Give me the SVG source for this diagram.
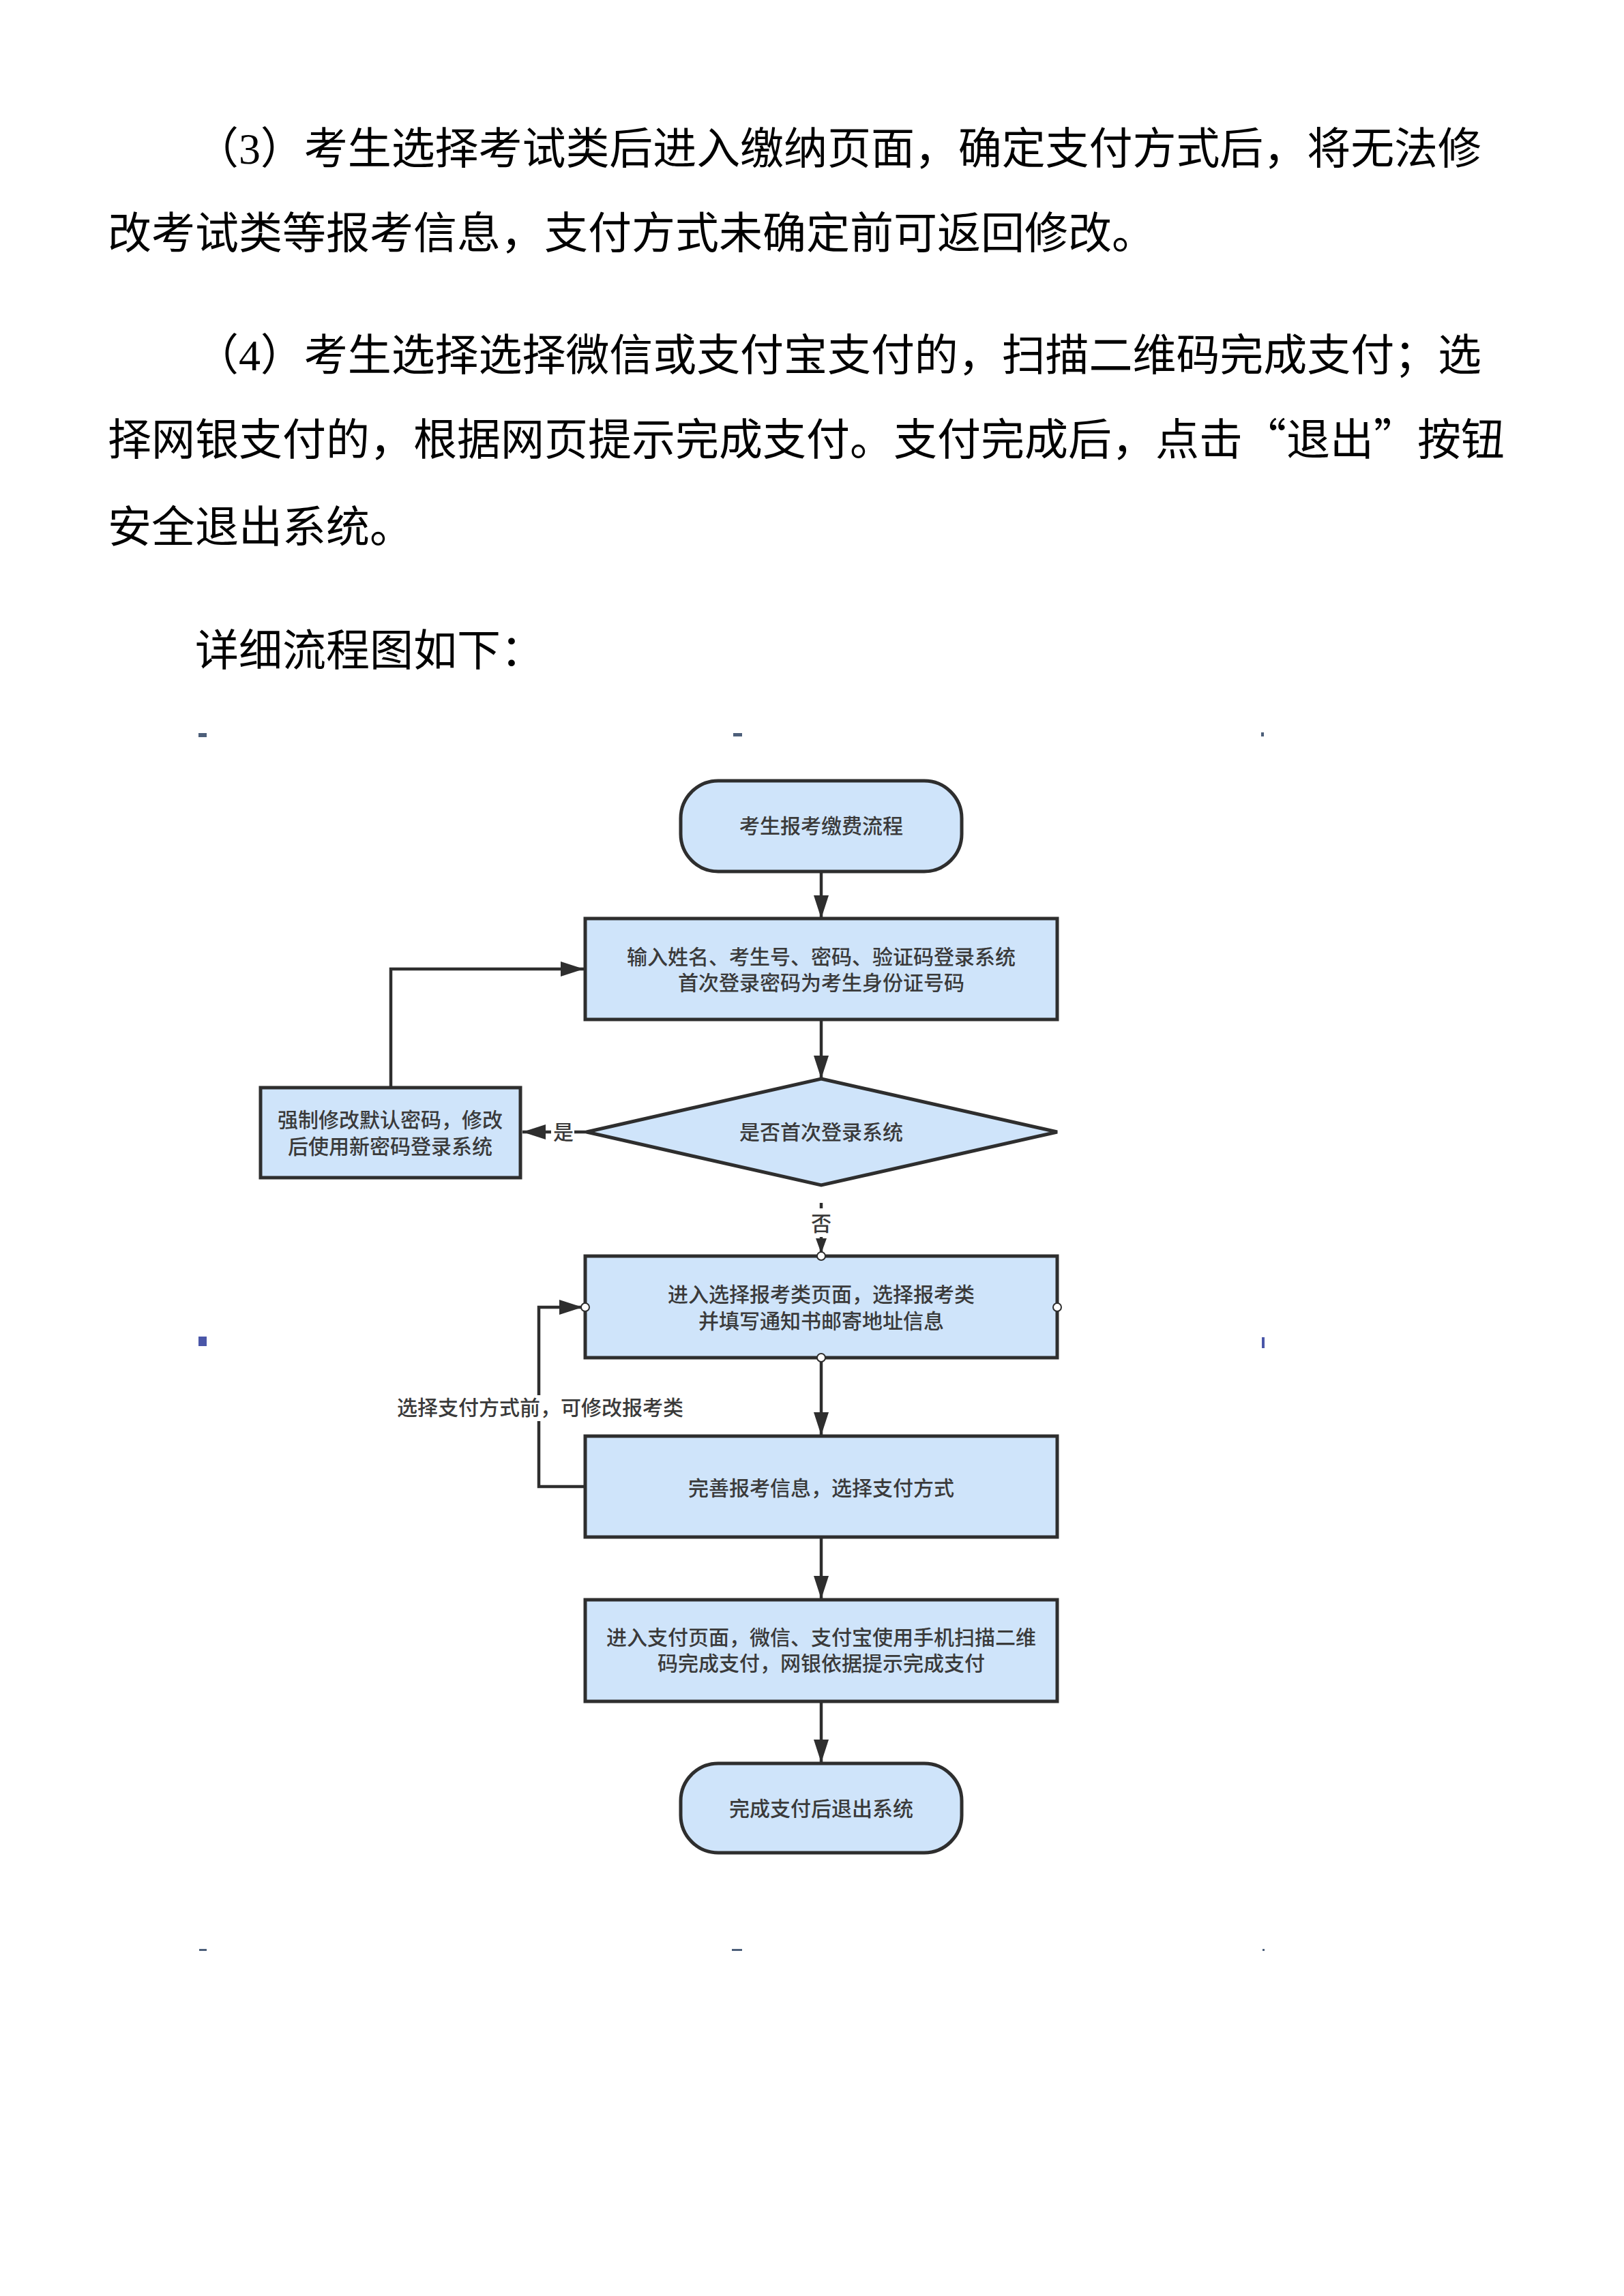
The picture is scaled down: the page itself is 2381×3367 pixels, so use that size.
<svg xmlns="http://www.w3.org/2000/svg" width="2381" height="3367" viewBox="0 0 2381 3367">
<style>
.body{font-family:"Liberation Serif","Noto Sans CJK SC",serif;font-size:64px;fill:#000}
.cjk{font-family:"Noto Sans CJK SC",sans-serif}
.node{fill:#cfe4fa;stroke:#2e2e2e;stroke-width:5}
.lbl{font-family:"Noto Sans CJK SC",sans-serif;font-size:30px;font-weight:500;fill:#3a3a3a;text-anchor:middle}
.edge{fill:none;stroke:#2e2e2e;stroke-width:4.5}
.port{fill:#ffffff;stroke:#2e2e2e;stroke-width:2}
.hdl{fill:#4d5f7a}
</style>
<defs>
<marker id="arr" viewBox="0 0 34 22" refX="34" refY="11" markerWidth="34" markerHeight="22" markerUnits="userSpaceOnUse" orient="auto">
<path d="M0,0 L34,11 L0,22 Z" fill="#2e2e2e"/>
</marker>
<marker id="arrs" viewBox="0 0 22 16" refX="22" refY="8" markerWidth="22" markerHeight="16" markerUnits="userSpaceOnUse" orient="auto">
<path d="M0,0 L22,8 L0,16 Z" fill="#2e2e2e"/>
</marker>
</defs>
<rect width="2381" height="3367" fill="#ffffff"/>

<g id="body-text">
<text class="body" x="286" y="240" textLength="1886" lengthAdjust="spacing">（3）考生选择考试类后进入缴纳页面，确定支付方式后，将无法修</text>
<text class="body" x="158" y="364">改考试类等报考信息，支付方式未确定前可返回修改。</text>
<text class="body" x="286" y="543" textLength="1886" lengthAdjust="spacing">（4）考生选择选择微信或支付宝支付的，扫描二维码完成支付；选</text>
<text class="body" y="667"><tspan x="158" textLength="1664" lengthAdjust="spacing">择网银支付的，根据网页提示完成支付。支付完成后，点击</tspan><tspan x="1822" class="cjk">“</tspan><tspan x="1886">退出</tspan><tspan x="2014" class="cjk">”</tspan><tspan x="2078">按钮</tspan></text>
<text class="body" x="158" y="795">安全退出系统。</text>
<text class="body" x="286" y="976">详细流程图如下：</text>
</g>

<g id="handles">
<rect class="hdl" x="291" y="1075" width="12" height="6"/>
<rect class="hdl" x="1075" y="1075" width="13" height="5"/>
<rect class="hdl" x="1849" y="1074" width="4" height="6"/>
<rect x="291" y="1960" width="12" height="14" fill="#4a56a8"/>
<rect x="1850" y="1961" width="4" height="16" fill="#4a56a8"/>
<rect class="hdl" x="292" y="2858" width="11" height="3"/>
<rect class="hdl" x="1073" y="2858" width="15" height="3"/>
<rect class="hdl" x="1851" y="2858" width="3" height="3"/>
</g>

<g id="connectors">
<line class="edge" x1="1204" y1="1278" x2="1204" y2="1347" marker-end="url(#arr)"/>
<line class="edge" x1="1204" y1="1495" x2="1204" y2="1582" marker-end="url(#arr)"/>
<line class="edge" x1="860" y1="1660" x2="766" y2="1660" marker-end="url(#arr)"/>
<path class="edge" d="M573,1595 L573,1421 L856,1421" marker-end="url(#arr)"/>
<line class="edge" x1="1204" y1="1764" x2="1204" y2="1838" marker-end="url(#arrs)"/>
<line class="edge" x1="1204" y1="1991" x2="1204" y2="2105" marker-end="url(#arr)"/>
<path class="edge" d="M857,2180 L790,2180 L790,1917 L854,1917" marker-end="url(#arr)"/>
<line class="edge" x1="1204" y1="2254" x2="1204" y2="2345" marker-end="url(#arr)"/>
<line class="edge" x1="1204" y1="2495" x2="1204" y2="2585" marker-end="url(#arr)"/>
<rect x="808" y="1642" width="34" height="38" fill="#ffffff"/>
<text class="lbl" x="826" y="1671">是</text>
<rect x="1188" y="1772" width="32" height="42" fill="#ffffff"/>
<text class="lbl" x="1204" y="1805">否</text>
<rect x="586" y="2046" width="413" height="38" fill="#ffffff"/>
<text class="lbl" x="792" y="2075">选择支付方式前，可修改报考类</text>
</g>

<g id="start">
<rect class="node" x="998" y="1145" width="412" height="133" rx="55" ry="55"/>
<text class="lbl" x="1204" y="1222">考生报考缴费流程</text>
</g>

<g id="login">
<rect class="node" x="858" y="1347" width="692" height="148"/>
<text class="lbl" x="1204" y="1414">输入姓名、考生号、密码、验证码登录系统</text>
<text class="lbl" x="1204" y="1452">首次登录密码为考生身份证号码</text>
</g>

<g id="first-login">
<polygon class="node" points="1204,1582 1550,1660 1204,1738 860,1660"/>
<text class="lbl" x="1204" y="1671">是否首次登录系统</text>
</g>

<g id="change-pwd">
<rect class="node" x="382" y="1595" width="381" height="132"/>
<text class="lbl" x="572" y="1653">强制修改默认密码，修改</text>
<text class="lbl" x="572" y="1692">后使用新密码登录系统</text>
</g>

<g id="select-type">
<rect class="node" x="858" y="1842" width="692" height="149"/>
<text class="lbl" x="1204" y="1909">进入选择报考类页面，选择报考类</text>
<text class="lbl" x="1204" y="1948">并填写通知书邮寄地址信息</text>
<circle class="port" cx="1204" cy="1842" r="6"/>
<circle class="port" cx="858" cy="1917" r="6"/>
<circle class="port" cx="1550" cy="1917" r="6"/>
<circle class="port" cx="1204" cy="1991" r="6"/>
</g>

<g id="complete-info">
<rect class="node" x="858" y="2106" width="692" height="148"/>
<text class="lbl" x="1204" y="2193">完善报考信息，选择支付方式</text>
</g>

<g id="pay">
<rect class="node" x="858" y="2346" width="692" height="149"/>
<text class="lbl" x="1204" y="2412">进入支付页面，微信、支付宝使用手机扫描二维</text>
<text class="lbl" x="1204" y="2450">码完成支付，网银依据提示完成支付</text>
</g>

<g id="end">
<rect class="node" x="998" y="2586" width="412" height="131" rx="55" ry="55"/>
<text class="lbl" x="1204" y="2663">完成支付后退出系统</text>
</g>
</svg>
